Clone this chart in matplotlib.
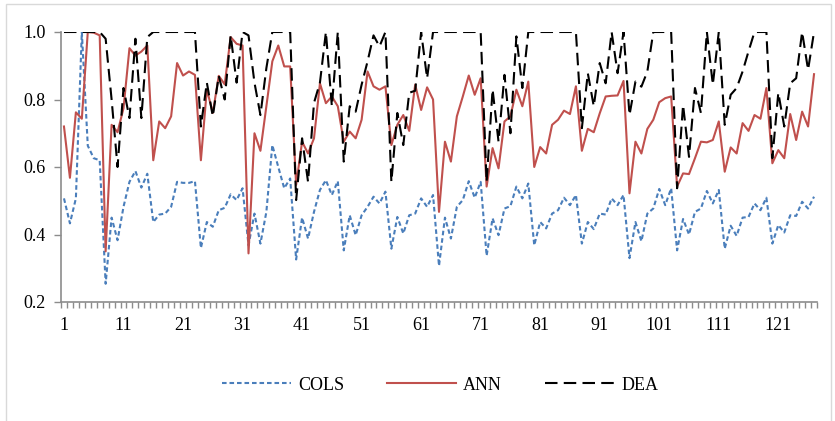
import numpy as np
import matplotlib
matplotlib.use("Agg")
import matplotlib.pyplot as plt
from matplotlib.lines import Line2D
from matplotlib.patches import Rectangle

cols = [
    0.507, 0.433, 0.507, 1.000, 0.663, 0.626, 0.620,
    0.254, 0.450, 0.383, 0.482, 0.556, 0.588, 0.539, 0.580,
    0.437, 0.459, 0.462, 0.482, 0.556, 0.553, 0.553, 0.558,
    0.360, 0.437, 0.423, 0.472, 0.479, 0.519, 0.502, 0.537,
    0.368, 0.462, 0.373, 0.467, 0.665, 0.600, 0.537, 0.566,
    0.326, 0.450, 0.388, 0.467, 0.532, 0.561, 0.517, 0.558,
    0.353, 0.457, 0.398, 0.457, 0.482, 0.512, 0.492, 0.527,
    0.358, 0.452, 0.403, 0.457, 0.462, 0.507, 0.482, 0.517,
    0.307, 0.450, 0.388, 0.482, 0.502, 0.558, 0.509, 0.556,
    0.337, 0.448, 0.398, 0.477, 0.484, 0.542, 0.507, 0.551,
    0.368, 0.437, 0.418, 0.462, 0.472, 0.509, 0.487, 0.517,
    0.373, 0.437, 0.416, 0.462, 0.459, 0.507, 0.487, 0.517,
    0.330, 0.437, 0.380, 0.462, 0.477, 0.535, 0.487, 0.537,
    0.353, 0.446, 0.400, 0.467, 0.477, 0.529, 0.492, 0.532,
    0.358, 0.426, 0.396, 0.450, 0.452, 0.492, 0.472, 0.509,
    0.373, 0.428, 0.406, 0.457, 0.455, 0.497, 0.477, 0.512,
]
ann = [
    0.720, 0.568, 0.762, 0.743, 1.000, 0.998, 0.990,
    0.350, 0.725, 0.703, 0.774, 0.952, 0.930, 0.942, 0.960,
    0.620, 0.735, 0.715, 0.750, 0.908, 0.871, 0.883, 0.873,
    0.620, 0.830, 0.760, 0.870, 0.845, 0.985, 0.965, 0.960,
    0.344, 0.700, 0.648, 0.780, 0.913, 0.960, 0.898, 0.898,
    0.547, 0.675, 0.640, 0.685, 0.848, 0.789, 0.809, 0.780,
    0.675, 0.705, 0.685, 0.740, 0.883, 0.839, 0.829, 0.839,
    0.665, 0.725, 0.754, 0.707, 0.844, 0.769, 0.836, 0.800,
    0.467, 0.675, 0.616, 0.750, 0.809, 0.871, 0.814, 0.863,
    0.542, 0.656, 0.596, 0.735, 0.750, 0.829, 0.780, 0.853,
    0.600, 0.659, 0.640, 0.725, 0.740, 0.767, 0.757, 0.839,
    0.648, 0.713, 0.703, 0.759, 0.809, 0.811, 0.812, 0.855,
    0.522, 0.675, 0.640, 0.713, 0.740, 0.792, 0.804, 0.809,
    0.542, 0.581, 0.579, 0.626, 0.675, 0.673, 0.680, 0.735,
    0.586, 0.658, 0.640, 0.730, 0.707, 0.754, 0.743, 0.834,
    0.611, 0.650, 0.626, 0.757, 0.680, 0.764, 0.720, 0.875,
]
dea = [
    1.000, 1.000, 1.000, 1.000, 1.000, 1.000, 1.000,
    0.980, 0.800, 0.600, 0.834, 0.745, 0.980, 0.745, 0.985,
    1.000, 1.000, 1.000, 1.000, 1.000, 1.000, 1.000, 1.000,
    0.720, 0.850, 0.750, 0.870, 0.800, 0.990, 0.850, 1.000,
    0.990, 0.850, 0.754, 0.893, 1.000, 1.000, 1.000, 1.000,
    0.502, 0.685, 0.556, 0.790, 0.850, 1.000, 0.780, 1.000,
    0.616, 0.780, 0.764, 0.844, 0.913, 0.990, 0.957, 1.000,
    0.556, 0.760, 0.665, 0.820, 0.826, 1.000, 0.863, 1.000,
    1.000, 1.000, 1.000, 1.000, 1.000, 1.000, 1.000, 1.000,
    0.556, 0.830, 0.675, 0.873, 0.700, 0.987, 0.834, 1.000,
    1.000, 1.000, 1.000, 1.000, 1.000, 1.000, 1.000, 1.000,
    0.715, 0.878, 0.780, 0.908, 0.848, 1.000, 0.878, 1.000,
    0.754, 0.853, 0.838, 0.883, 1.000, 1.000, 1.000, 1.000,
    0.537, 0.784, 0.630, 0.834, 0.760, 1.000, 0.844, 1.000,
    0.725, 0.814, 0.834, 0.883, 0.943, 1.000, 1.000, 1.000,
    0.626, 0.820, 0.720, 0.848, 0.863, 1.000, 0.888, 1.000,
]
x_labels = [str(v) for v in range(1, 128, 10)]

plt.rcParams["font.family"] = ["Liberation Serif", "DejaVu Serif"]

W, H = 835, 421
fig = plt.figure(figsize=(W / 100, H / 100), dpi=100)
fig.patch.set_facecolor("white")

# chart-area border
fig.patches.append(Rectangle((6 / W, -0.01), (831 - 6) / W, 1.0, transform=fig.transFigure,
                             fill=False, edgecolor="#d9d9d9", linewidth=1.0))

ax = fig.add_axes([61 / W, 1 - 302 / H, (817 - 61) / W, (302 - 32) / H])

x = np.arange(1, len(cols) + 1)
axis_grey = "#8c8c8c"
cols_style = (0, (2.2, 1.4))
dea_style = (0, (6, 3))

ax.plot(x, cols, color="#4a7ebb", linewidth=1.5, linestyle=cols_style, label="COLS")
ax.plot(x, ann, color="#c0504d", linewidth=1.5, linestyle="-", label="ANN")
ax.plot(x, dea, color="black", linewidth=1.5, linestyle=dea_style, label="DEA")

ax.set_xlim(0.5, len(cols) + 0.5)
ax.set_ylim(0.2, 1.0)
ax.set_yticks(np.arange(0.2, 1.01, 0.2))
ax.set_yticklabels([f"{v:.1f}" for v in np.arange(0.2, 1.01, 0.2)])

ax.set_xticks(np.arange(1, len(cols) + 1, 10))
ax.set_xticklabels(x_labels)
ax.set_xticks(np.arange(0.5, len(cols) + 1, 1), minor=True)

ax.tick_params(axis="x", which="major", length=0, pad=11, labelsize=13)
ax.tick_params(axis="x", which="minor", length=4, width=1.0, color=axis_grey, direction="out")
ax.tick_params(axis="y", which="major", length=5, width=1.0, color=axis_grey, pad=6, labelsize=13)

for side in ("top", "right"):
    ax.spines[side].set_visible(False)
for side in ("left", "bottom"):
    ax.spines[side].set_color(axis_grey)
    ax.spines[side].set_linewidth(1.2)

handles = [
    Line2D([0], [0], color="#4a7ebb", linewidth=1.5, linestyle=cols_style),
    Line2D([0], [0], color="#c0504d", linewidth=1.5),
    Line2D([0], [0], color="black", linewidth=1.5, linestyle=dea_style),
]
fig.legend(handles, ["COLS", "ANN", "DEA"], loc="center", bbox_to_anchor=(440 / W, 1 - 385 / H),
           ncol=3, frameon=False, fontsize=13, handlelength=3.8, columnspacing=2.4, handletextpad=0.4)

fig.savefig("out.png", dpi=100, facecolor="white")
